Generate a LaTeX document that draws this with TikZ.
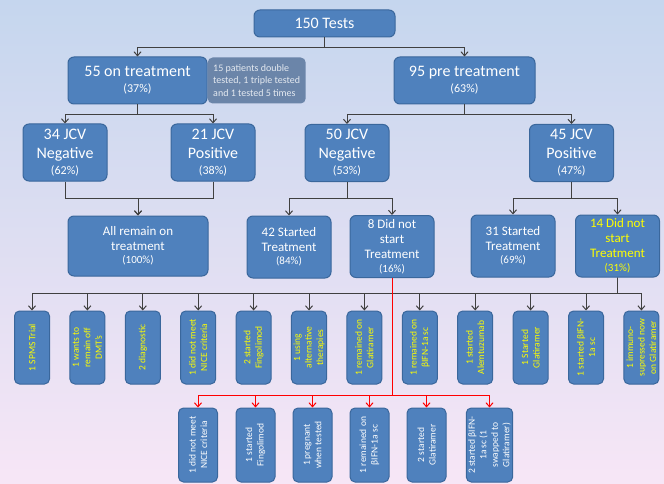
\documentclass[tikz,border=0pt]{standalone}
\usepackage{fontspec}
\setmainfont{Carlito}
\usepackage{tikz}
\usetikzlibrary{arrows.meta,positioning}
\definecolor{boxblue}{HTML}{4F81BD}
\definecolor{boxedge}{HTML}{3A679C}
\definecolor{notefill}{HTML}{6B85A9}
\definecolor{notetext}{HTML}{E4E9F0}
\definecolor{lgray}{HTML}{404040}
\definecolor{bgtop}{HTML}{C5D6EE}
\definecolor{bgbot}{HTML}{F7E6F6}
\definecolor{ylw}{HTML}{FFFF00}
\newcommand{\pcta}[1]{{\fontsize{12}{14}\selectfont(#1\%)}}
\newcommand{\pctb}[1]{{\fontsize{11}{13}\selectfont(#1\%)}}

\begin{document}
\begin{tikzpicture}[x=1pt, y=-1pt,
          box/.style = {draw=boxedge, fill=boxblue, line width=1pt, rounded corners=6pt,
                        text=white, align=center, inner sep=2pt},
          numbox/.style = {box, font=\fontsize{16}{19}\selectfont},
          jcvbox/.style = {numbox, minimum width=84pt, minimum height=57pt},
          midbox/.style = {box, font=\fontsize{13}{15}\selectfont, minimum width=84pt, minimum height=62pt},
          vbox/.style = {box, rotate=90, rounded corners=5pt, font=\fontsize{9.5}{11.5}\selectfont},
          tbox/.style = {vbox, text=ylw, minimum width=73pt, minimum height=35pt},
          bbox/.style = {vbox, minimum width=74pt, minimum height=39pt},
          notebox/.style = {fill=notefill, text=notetext, rounded corners=5pt, align=left,
                        font=\fontsize{10}{12.5}\selectfont, minimum width=98pt, minimum height=46pt, inner sep=3pt},
          arr/.style = {-{Straight Barb[length=4pt,width=7pt]}, line width=1pt, draw=lgray},
          rarr/.style = {arr, draw=red},
        ]
        \shade[top color=bgtop, bottom color=bgbot] (0,0) rectangle (664,484);
        \useasboundingbox (0,0) rectangle (664,484);

        \node[numbox, minimum width=141pt, minimum height=27pt] (tests) at (324.5,23.5) {150 Tests};
        \node[numbox, minimum width=139pt, minimum height=47pt] (ontr) at (137.5,80.5) {55 on treatment\\[-3pt]\pcta{37}};
        \node[notebox, right=0pt of ontr] (dup) {15 patients double\\tested, 1 triple tested\\and 1 tested 5 times};
        \node[numbox, minimum width=141pt, minimum height=47pt] (pretr) at (464.5,80.5) {95 pre treatment\\[-3pt]\pcta{63}};

        \node[jcvbox] (negOn) at (65,152.5) {34 JCV\\Negative\\[-3pt]\pcta{62}};
        \node[jcvbox] (posOn) at (213,152.5) {21 JCV\\Positive\\[-3pt]\pcta{38}};
        \node[jcvbox] (negPre) at (347,153) {50 JCV\\Negative\\[-3pt]\pcta{53}};
        \node[jcvbox] (posPre) at (571.5,153) {45 JCV\\Positive\\[-3pt]\pcta{47}};

        \node[midbox, minimum width=140pt, minimum height=60pt] (remain) at (138,246) {All remain on\\treatment\\[-2pt]\pctb{100}};
        \node[midbox] (startNeg) at (289,247) {42 Started\\Treatment\\[-2pt]\pctb{84}};
        \node[midbox] (noNeg) at (392,246.5) {8 Did not\\start\\Treatment\\[-1pt]\pctb{16}};
        \node[midbox] (startPos) at (513,246) {31 Started\\Treatment\\[-2pt]\pctb{69}};
        \node[midbox, text=ylw] (noPos) at (617.5,246) {14 Did not\\start\\Treatment\\[-1pt]\pctb{31}};

        % reasons, JCV positive not started
        \node[tbox] (r1) at (32,347.5) {1 SPMS Trial};
        \node[tbox] (r2) at (87.4,347.5) {1 wants to\\remain off\\DMT's};
        \node[tbox] (r3) at (142.8,347.5) {2 diagnostic};
        \node[tbox] (r4) at (198.2,347.5) {1 did not meet\\NICE criteria};
        \node[tbox] (r5) at (253.6,347.5) {2 started\\Fingolimod};
        \node[tbox] (r6) at (309,347.5) {1 using\\alternative\\therapies};
        \node[tbox] (r7) at (364.4,347.5) {1 remained on\\Glatiramer};
        \node[tbox] (r8) at (419.8,347.5) {1 remained on\\βIFN-1a sc};
        \node[tbox] (r9) at (475.2,347.5) {1 started\\Alemtuzumab};
        \node[tbox] (r10) at (530.6,347.5) {1 Started\\Glatiramer};
        \node[tbox] (r11) at (586,347.5) {1 started βIFN-\\1a sc};
        \node[tbox] (r12) at (641.4,347.5) {1 immuno-\\supressed now\\on Glatiramer};

        % reasons, JCV negative not started
        \node[bbox] (s1) at (198,445) {1 did not meet\\NICE criteria};
        \node[bbox] (s2) at (255.5,445) {1 started\\Fingolimod};
        \node[bbox] (s3) at (312.5,445) {1 pregnant\\when tested};
        \node[bbox] (s4) at (369.5,445) {1 remained on\\βIFN-1a sc};
        \node[bbox] (s5) at (426.5,445) {2 started\\Glatiramer};
        \node[bbox] (s6) at (489.5,445) {2 started βIFN-\\1a sc (1\\swapped to\\Glatiramer)};

        \draw[arr] (tests.south) -- ++(0,10) -| (ontr.north);
        \draw[arr] (tests.south) -- ++(0,10) -| (pretr.north);
        \draw[arr] (ontr.south) -- ++(0,10) -| (negOn.north);
        \draw[arr] (ontr.south) -- ++(0,10) -| (posOn.north);
        \draw[arr] (pretr.south) -- ++(0,10) -| (negPre.north);
        \draw[arr] (pretr.south) -- ++(0,10) -| (posPre.north);
        \draw[arr] (negOn.south) -- ++(0,17) -| (remain.north);
        \draw[arr] (posOn.south) -- ++(0,17) -| (remain.north);
        \draw[arr] (negPre.south) -- ++(0,16) -| (startNeg.north);
        \draw[arr] (negPre.south) -- ++(0,16) -| (noNeg.north);
        \draw[arr] (posPre.south) -- ++(0,16) -| (startPos.north);
        \draw[arr] (posPre.south) -- ++(0,16) -| (noPos.north);
        \foreach \i in {1,...,12}
          \draw[arr] (noPos.south) -- ++(0,16) -| (r\i.east);
        \foreach \i in {1,...,6}
          \draw[rarr] (noNeg.south) -- ++(0,117) -| (s\i.east);
      \end{tikzpicture}
\end{document}
